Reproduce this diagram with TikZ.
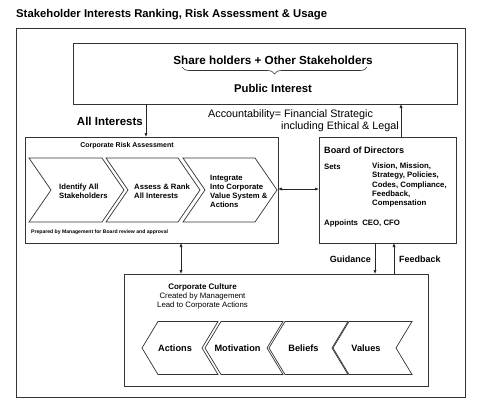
\documentclass[tikz,border=0pt]{standalone}
\usepackage{fontspec}
\setmainfont{Liberation Sans}
\usetikzlibrary{arrows.meta,decorations.pathreplacing}
\newcommand\chevR[4]{%
  \draw[boxline] (#1,#4) ++(0,-32) -- ++(#2,0) -- ++(#3,32) -- ++(-#3,32) -- ++(-#2,0) -- ++(#3,-32) -- cycle;}
\newcommand\chevL[4]{%
  \draw[boxline] (#1,#4) ++(0,-26.5) -- ++(#2,0) -- ++(-#3,26.5) -- ++(#3,26.5) -- ++(-#2,0) -- ++(-#3,-26.5) -- cycle;}
\begin{document}
\begin{tikzpicture}[x=1pt,y=-1pt,
  boxline/.style={draw=black!80,line width=0.7pt},
  arr/.style={black!85,line width=0.7pt,-{Latex[length=4pt,width=3.2pt]}},
  darr/.style={black!85,line width=0.7pt,{Latex[length=4pt,width=3.2pt]}-{Latex[length=4pt,width=3.2pt]}},
  bt/.style={font=\bfseries\fontsize{7.7}{9}\selectfont,inner sep=0pt},
  rt/.style={font=\fontsize{7.5}{9}\selectfont,inner sep=0pt}]
\useasboundingbox (0,0) rectangle (482,415);
\node[anchor=west,inner sep=0pt,font=\bfseries\fontsize{11.3}{13}\selectfont] (title) at (16,15) {Stakeholder Interests Ranking, Risk Assessment \& Usage};
\draw[boxline] (16,28) rectangle (465,397);
% top box
\draw[boxline] (73,43) rectangle (457,104);
\coordinate (topbot) at (146,104);
\coordinate (topbr) at (401,104);
\node[bt,font=\bfseries\fontsize{11.7}{13}\selectfont] (share) at (273,60) {Share holders + Other Stakeholders};
\draw[black!80,line width=0.6pt,decorate,decoration={brace,mirror,amplitude=7pt}] (182,67) -- (367,67);
\node[bt,font=\bfseries\fontsize{11.3}{13}\selectfont] (pub) at (273,88) {Public Interest};
% risk box
\draw[boxline] (25,137) rectangle (278,243);
\coordinate (riskr) at (278,189);
\coordinate (risktop) at (146,137);
\coordinate (riskbot) at (181,243);
\node[bt,font=\bfseries\fontsize{7}{8}\selectfont] (cra) at (127,146) {Corporate Risk Assessment};
\chevR{29}{73}{22}{190}
\chevR{106}{72}{22}{190}
\chevR{183}{72}{22}{190}
\node[bt,align=left,anchor=west] (c1) at (59,191) {Identify All\\Stakeholders};
\node[bt,align=left,anchor=west] (c2) at (134,191) {Assess \& Rank\\All Interests};
\node[bt,align=left,anchor=west] (c3) at (210,191) {Integrate\\Into Corporate\\Value System \&\\Actions};
\node[bt,anchor=west,font=\bfseries\fontsize{5.1}{6}\selectfont] (prep) at (31,232) {Prepared by Management for Board review and approval};
% board box
\draw[boxline] (319,137) rectangle (456,243);
\coordinate (boardl) at (319,189);
\coordinate (boardtop) at (401,137);
\coordinate (boardg) at (375,243);
\coordinate (boardf) at (394,243);
\node[bt,anchor=west,font=\bfseries\fontsize{9.1}{10}\selectfont] (bod) at (324,150) {Board of Directors};
\node[bt,anchor=west,font=\bfseries\fontsize{7.8}{9.3}\selectfont] (sets) at (324,167) {Sets};
\node[bt,anchor=north west,align=left,font=\bfseries\fontsize{7.8}{9.4}\selectfont] (list) at (372,162.5) {Vision, Mission,\\Strategy, Policies,\\Codes, Compliance,\\Feedback,\\Compensation};
\node[bt,anchor=west,font=\bfseries\fontsize{7.8}{9}\selectfont] (app) at (324,223) {Appoints\ \ CEO, CFO};
% culture box
\draw[boxline] (124,274) rectangle (428,386);
\coordinate (cultg) at (375,274);
\coordinate (cultf) at (394,274);
\coordinate (culttop) at (181,274);
\node[bt,font=\bfseries\fontsize{8}{9}\selectfont] (cc) at (202.5,287) {Corporate Culture};
\node[rt,align=center,font=\fontsize{7.8}{9.5}\selectfont] (ccsub) at (202.5,301) {Created by Management\\Lead to Corporate Actions};
\chevL{158}{60}{16}{348}
\chevL{221}{62}{16}{348}
\chevL{285}{63}{16}{348}
\chevL{349}{63}{16}{348}
\node[bt,font=\bfseries\fontsize{9.2}{10}\selectfont] (a1) at (175,348) {Actions};
\node[bt,font=\bfseries\fontsize{9.2}{10}\selectfont] (a2) at (237.5,348) {Motivation};
\node[bt,font=\bfseries\fontsize{9.2}{10}\selectfont] (a3) at (303.5,348) {Beliefs};
\node[bt,font=\bfseries\fontsize{9.2}{10}\selectfont] (a4) at (366,348) {Values};
% connectors
\draw[arr] (topbot) -- (risktop);
\node[bt,anchor=east,font=\bfseries\fontsize{11.5}{13}\selectfont] (allint) at (143,121) {All Interests};
\draw[arr] (boardtop) -- (topbr);
\node[rt,anchor=west,align=left,font=\fontsize{10.8}{12}\selectfont] (acc) at (208,121) {Accountability= Financial Strategic\\\hspace*{73pt}including Ethical \& Legal};
\draw[darr] (riskr) -- (boardl);
\draw[darr] (riskbot) -- (culttop);
\draw[arr] (boardg) -- (cultg);
\draw[arr] (cultf) -- (boardf);
\node[bt,anchor=east,font=\bfseries\fontsize{9}{10}\selectfont] (guid) at (371,259) {Guidance};
\node[bt,anchor=west,font=\bfseries\fontsize{9}{10}\selectfont] (feed) at (399,259) {Feedback};
\end{tikzpicture}
\end{document}
